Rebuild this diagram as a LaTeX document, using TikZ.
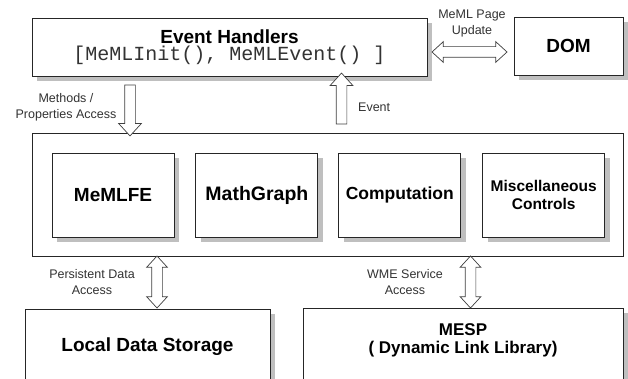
\documentclass[tikz,border=0pt]{standalone}
\usepackage{fontspec}
\setmainfont{Liberation Sans}
\setmonofont{Liberation Mono}
\usetikzlibrary{positioning, shapes.arrows, shadows}

\begin{document}
\begin{tikzpicture}[
    x=1pt, y=-1pt,
    box/.style={draw=black!85, fill=white, line width=0.9pt, inner sep=0pt},
    shadowed/.style={box, drop shadow={shadow xshift=5pt, shadow yshift=-5pt, fill=gray!50, opacity=1}},
    module/.style={shadowed, minimum width=122pt, minimum height=84pt},
    big/.style={font=\bfseries\fontsize{#1}{18}\selectfont, align=center},
    tag/.style={font=\fontsize{12.5}{15.5}\selectfont, text=black!80, align=center, inner sep=0pt},
    fatarrow/.style={single arrow, draw=black!75, fill=white, line width=0.7pt, inner sep=5pt,
        minimum width=22pt, single arrow head extend=6pt, single arrow tip angle=85},
    fatdouble/.style={double arrow, draw=black!75, fill=white, line width=0.7pt, inner sep=5pt,
        minimum width=20pt, double arrow head extend=5pt, double arrow tip angle=85}
]
    \useasboundingbox[fill=white] (0,0) rectangle (628,379);

    % top row
    \node[shadowed, minimum width=395pt, minimum height=58pt, align=center,
          font=\fontsize{19}{16.5}\selectfont] (handlers) at (229.5,47)
        {\bfseries Event Handlers\\{\ttfamily\color{black!80}\fontsize{20}{16.5}\selectfont [MeMLInit(), MeMLEvent() ]}};
    \node[shadowed, minimum width=109pt, minimum height=58pt, big=19] (dom) at (568.5,46) {DOM};

    % component container
    \node[box, minimum width=591pt, minimum height=123pt] (core) at (327.5,194.5) {};
    \node[module, big=19] (memlfe) at (113,195) {MeMLFE};
    \node[module, big=19.5, right=21pt of memlfe] (mathgraph) {MathGraph};
    \node[module, big=17.5, right=20pt of mathgraph] (computation) {Computation};
    \node[module, big=15.5, right=21pt of computation] (misc) {Miscellaneous\\Controls};

    % bottom row
    \node[shadowed, minimum width=245pt, minimum height=76pt, big=19] (storage) at (147.5,347) {Local Data Storage};
    \node[shadowed, minimum width=320pt, minimum height=76pt, big=17, text depth=14pt] (mesp) at (463,346) {MESP\\( Dynamic Link Library)};

    % block arrows
    \node[fatarrow, rotate=-90, minimum height=51pt] (methods) at (130,107.5) {};
    \node[fatarrow, rotate=90, minimum height=51pt] (event) at (341.5,101.5) {};
    \node[fatdouble, minimum height=75pt] (update) at (469.5,52) {};
    \node[fatdouble, rotate=90, minimum height=52pt] (persist) at (157,282) {};
    \node[fatdouble, rotate=90, minimum height=52pt] (service) at (470.5,282) {};

    % labels
    \node[tag] at (66,107.5) {Methods /\\Properties Access};
    \node[tag, anchor=west] at (358,107) {Event};
    \node[tag] at (472,23.5) {MeML Page\\Update};
    \node[tag] at (92,282) {Persistent Data\\Access};
    \node[tag] at (405,282) {WME Service\\Access};

\end{tikzpicture}
\end{document}
